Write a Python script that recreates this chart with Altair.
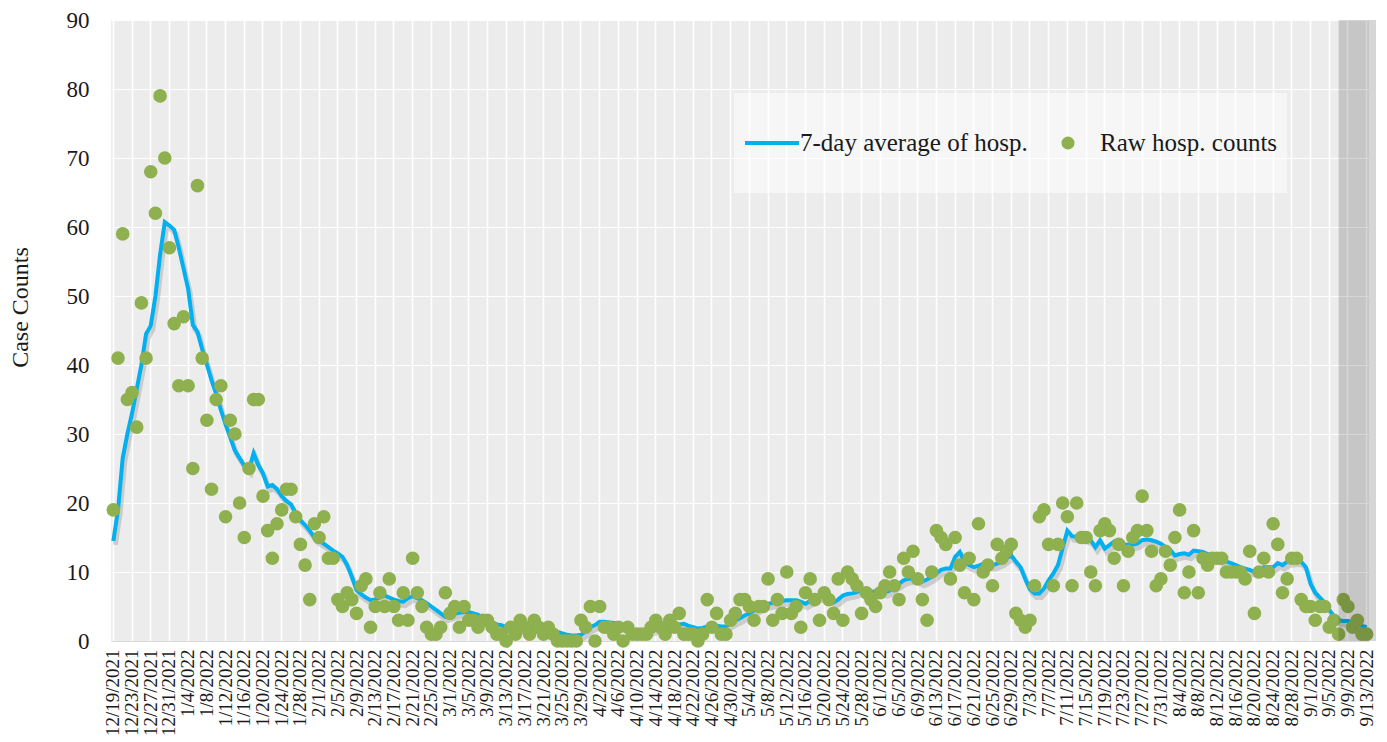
import altair as alt
import pandas as pd

# ---- data ----
start_date = "2021-12-19"
end_date = "2022-09-13"
dates = [f"{d.month}/{d.day}/{d.year}" for d in pd.date_range(start_date, end_date, freq="D")]

raw_counts = [
    19, 41, 59, 35, 36, 31, 49, 41, 68, 62,
    79, 70, 57, 46, 37, 47, 37, 25, 66, 41,
    32, 22, 35, 37, 18, 32, 30, 20, 15, 25,
    35, 35, 21, 16, 12, 17, 19, 22, 22, 18,
    14, 11, 6, 17, 15, 18, 12, 12, 6, 5,
    7, 6, 4, 8, 9, 2, 5, 7, 5, 9,
    5, 3, 7, 3, 12, 7, 5, 2, 1, 1,
    2, 7, 4, 5, 2, 5, 3, 3, 2, 3,
    3, 2, 1, 1, 0, 2, 1, 3, 2, 1,
    3, 2, 1, 2, 1, 0, 0, 0, 0, 0,
    3, 2, 5, 0, 5, 2, 2, 1, 2, 0,
    2, 1, 1, 1, 1, 2, 3, 2, 1, 3,
    2, 4, 1, 1, 1, 0, 1, 6, 2, 4,
    1, 1, 3, 4, 6, 6, 5, 3, 5, 5,
    9, 3, 6, 4, 10, 4, 5, 2, 7, 9,
    6, 3, 7, 6, 4, 9, 3, 10, 9, 8,
    4, 7, 6, 5, 7, 8, 10, 8, 6, 12,
    10, 13, 9, 6, 3, 10, 16, 15, 14, 9,
    15, 11, 7, 12, 6, 17, 10, 11, 8, 14,
    12, 13, 14, 4, 3, 2, 3, 8, 18, 19,
    14, 8, 14, 20, 18, 8, 20, 15, 15, 10,
    8, 16, 17, 16, 12, 14, 8, 13, 15, 16,
    21, 16, 13, 8, 9, 13, 11, 15, 19, 7,
    10, 16, 7, 12, 11, 12, 12, 12, 10, 10,
    10, 10, 9, 13, 4, 10, 12, 10, 17, 14,
    7, 9, 12, 12, 6, 5, 5, 3, 5, 5,
    2, 3, 1, 6, 5, 2, 3, 1, 1,
]

avg_7day = [
    14.5, 19, 26.5, 30, 33, 36.5, 40, 44.5, 45.7, 50,
    56, 60.7, 60.2, 59.6, 57, 54, 51, 45.8, 44.8, 42.3,
    40.1, 37.8, 35.8, 33.5, 31.4, 29.5, 27.6, 26.5, 25.4, 24.8,
    27.2, 25.5, 24.3, 22.4, 22.6, 22, 21, 20.3, 19.8, 18.5,
    17.5, 16.8, 16, 15, 14.5, 14.1, 13.6, 13.1, 12.7, 12.2,
    11, 9.3, 7.4, 6.8, 6.3, 5.9, 6, 6.3, 6.6, 6.3,
    6, 5.8, 5.7, 6.2, 6.5, 6.2, 5.9, 5.5, 5, 4.5,
    4, 3.5, 3.7, 4, 4.1, 4.2, 4.2, 4, 3.8, 3.3,
    3, 2.7, 2.4, 2.3, 2, 1.8, 1.7, 1.9, 1.9, 1.8,
    1.9, 1.8, 1.7, 1.5, 1.4, 1.3, 1.1, 0.9, 0.8, 0.8,
    0.9, 1.4, 2, 2.3, 2.8, 2.8, 2.7, 2.6, 2.4, 2.1,
    1.9, 1.6, 1.4, 1.3, 1.4, 1.6, 1.8, 2, 2.1, 2.2,
    2.3, 2.4, 2.5, 2.2, 2, 1.8, 1.9, 2.1, 2.2, 2.2,
    2.1, 2.1, 2.6, 3, 3.3, 3.7, 4, 4.4, 4.8, 5.2,
    5.4, 5.5, 5.7, 5.8, 5.9, 5.9, 5.9, 5.7, 5.4, 5.8,
    6.2, 6.5, 6.8, 6.4, 5.6, 6, 6.6, 6.8, 6.9, 7.1,
    7.4, 7.3, 7.1, 7.2, 7.4, 7.1, 7.3, 7.9, 8.3, 8.8,
    9, 9.1, 8.9, 8.6, 8.9, 9.3, 9.8, 10.3, 10.5, 10.5,
    12.2, 12.9, 11.5, 11, 10.7, 10.9, 11.2, 11.1, 11, 11.2,
    11.5, 12, 12.4, 11.5, 10.7, 9, 7.5, 6.9, 6.9, 7.6,
    8.8, 9.8, 11, 13.5, 16, 15.2, 15.1, 15, 14.9, 14.6,
    13.6, 14.6, 13.4, 13.9, 14.4, 14.1, 13.9, 14, 14, 14.1,
    14.6, 14.7, 14.6, 14.4, 14.1, 13.6, 13.2, 12.4, 12.6, 12.7,
    12.5, 13.1, 13, 12.9, 12.6, 12.3, 12, 11.7, 11.5, 11.3,
    11, 10.7, 10.5, 10.3, 10, 10.3, 10.7, 10.7, 10.7, 11.3,
    11, 11.5, 11.6, 11.7, 11.5, 10.7, 8.3, 7, 6.3, 5.6,
    4.5, 3.6, 3, 2.9, 2.9, 2.7, 2.5, 2.2, 2,
]

tick_dates = dates[::4]
y_ticks = list(range(0, 91, 10))
shade_start = ["9/7/2022"]
legend_labels = ["7-day average of hosp.", "Raw hosp. counts"]
y_title = "Case Counts"

df = pd.DataFrame({"date": dates, "raw": raw_counts, "avg": avg_7day})

# ---- styling ----
W, H = 1258, 621
TOP = 12
FONT = "Liberation Serif"
BLUE = "#00b0f0"
GREEN = "#8fb04e"
TXT = "#1a1a1a"

xscale = alt.Scale(type="band", domain=dates, paddingInner=0, paddingOuter=0)
yscale = alt.Scale(domain=[0, 90], nice=False)

xaxis = alt.Axis(values=tick_dates, labelAngle=270, labelFont=FONT, labelFontSize=19,
                 labelColor=TXT, ticks=False, labelPadding=8, domain=True,
                 domainColor="#d9d9d9", grid=True, gridColor="#ffffff", gridWidth=1.5,
                 labelOverlap=False, title=None)
yaxis = alt.Axis(values=y_ticks, labelFont=FONT, labelFontSize=23, labelColor=TXT,
                 ticks=False, domain=False, labelPadding=22, grid=True,
                 gridColor="#ffffff", gridWidth=1, title=y_title, titleFont=FONT,
                 titleFontSize=24, titleFontWeight="normal", titleColor=TXT,
                 titleAngle=270, titleX=-91, titleY=287, titleAlign="center",
                 titleBaseline="middle")

X = alt.X("date:O", scale=xscale, axis=xaxis, sort=dates)

base = alt.Chart(df)

shadow = base.mark_line(color="#7f7f7f", opacity=0.3, strokeWidth=5,
                        xOffset=2, yOffset=4).encode(
    x=X, y=alt.Y("avg:Q", scale=yscale, axis=yaxis))
line = base.mark_line(color=BLUE, strokeWidth=4).encode(
    x=X, y=alt.Y("avg:Q", scale=yscale, axis=yaxis))
points = base.mark_circle(color=GREEN, size=185, opacity=1).encode(
    x=X, y=alt.Y("raw:Q", scale=yscale, axis=yaxis))

shade = alt.Chart(pd.DataFrame({"date": shade_start})).mark_rect(
    color="#000000", opacity=0.16).encode(
    x=X, x2=alt.value(W + 7), y=alt.value(0), y2=alt.value(H))

one = pd.DataFrame({"a": [0]})
LY = 143 - 8 - TOP
leg_box = alt.Chart(one).mark_rect(color="#ffffff", opacity=0.55).encode(
    x=alt.value(623), x2=alt.value(1176), y=alt.value(LY - 50), y2=alt.value(LY + 50))
leg_line = alt.Chart(one).mark_rule(color=BLUE, strokeWidth=4).encode(
    x=alt.value(634), x2=alt.value(688), y=alt.value(LY))
leg_text1 = alt.Chart(pd.DataFrame({"t": [legend_labels[0]]})).mark_text(
    font=FONT, fontSize=25, color=TXT, align="left", baseline="middle").encode(
    x=alt.value(689), y=alt.value(LY), text="t:N")
leg_dot = alt.Chart(one).mark_circle(color=GREEN, size=170, opacity=1).encode(
    x=alt.value(957), y=alt.value(LY))
leg_text2 = alt.Chart(pd.DataFrame({"t": [legend_labels[1]]})).mark_text(
    font=FONT, fontSize=25, color=TXT, align="left", baseline="middle").encode(
    x=alt.value(989), y=alt.value(LY), text="t:N")

chart = alt.layer(
    shadow, line, points, shade, leg_box, leg_line, leg_text1, leg_dot, leg_text2
).properties(
    width=W, height=H,
    autosize=alt.AutoSizeParams(type="none"),
    padding={"left": 103, "top": TOP, "right": 10, "bottom": 100},
    background="#ffffff",
).configure_view(fill="#ececec", stroke=None)

chart.save("out.html", embed_options={"renderer": "svg", "actions": False})
